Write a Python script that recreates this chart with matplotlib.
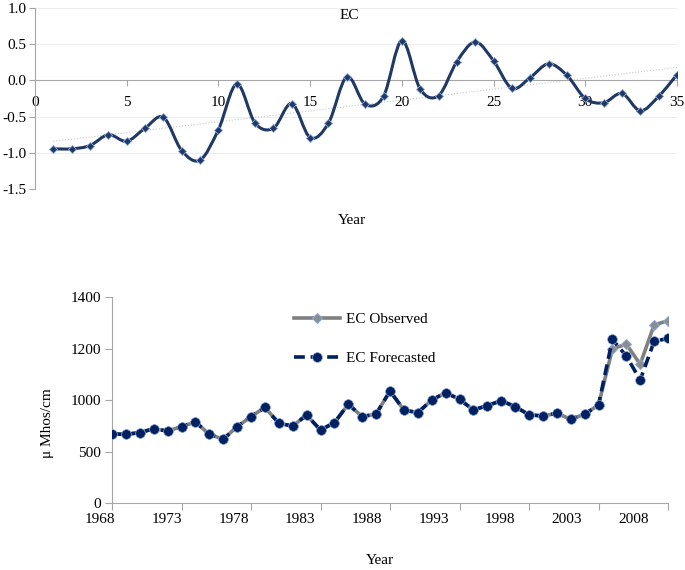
import numpy as np
import matplotlib
matplotlib.use("Agg")
import matplotlib.pyplot as plt
import matplotlib.transforms as mtransforms
from matplotlib.path import Path
from matplotlib.patches import PathPatch

plt.rcParams['font.family'] = ['Liberation Serif', 'DejaVu Serif']

# standardised EC index, periods 1..35
period = list(range(1, 36))
ec_index = [-0.945, -0.945, -0.90, -0.75, -0.84, -0.66, -0.51, -0.97, -1.10, -0.68,
            -0.05, -0.59, -0.66, -0.32, -0.79, -0.59, 0.05, -0.33, -0.22, 0.55,
            -0.12, -0.21, 0.26, 0.53, 0.27, -0.11, 0.04, 0.23, 0.07, -0.25,
            -0.31, -0.18, -0.42, -0.22, 0.08]

# observed vs forecasted EC (plotted in axis units)
years = list(range(1968, 2009))
ec_observed = [471, 469, 480, 507, 491, 521, 553, 469, 435, 521,
               589, 652, 544, 525, 600, 498, 548, 673, 589, 607,
               763, 634, 616, 702, 752, 707, 634, 664, 697, 657,
               602, 593, 612, 571, 605, 668, 1049, 1082, 945, 1212, 1241]
ec_forecast = [471, 469, 480, 507, 491, 521, 553, 469, 435, 521,
               589, 652, 544, 525, 600, 498, 548, 673, 589, 607,
               763, 634, 616, 702, 752, 707, 634, 664, 697, 657,
               602, 593, 612, 571, 605, 668, 1114, 1001, 838, 1100, 1121]
ytick_labels = ['0', '500', '1000', '1200', '1400']
xtick_labels = [str(y) for y in range(1968, 2009, 5)]

navy = '#1f3864'
dark = '#002060'
axis_gray = '#a6a6a6'


def smooth_path(xs, ys):
    # excel-like smoothed line: cubic bezier through every point
    p = np.column_stack([xs, ys]).astype(float)
    ext = np.vstack([p[0], p, p[-1]])
    verts = [p[0]]
    codes = [Path.MOVETO]
    for i in range(1, len(ext) - 2):
        p0, p1, p2, p3 = ext[i - 1], ext[i], ext[i + 1], ext[i + 2]
        verts += [p1 + (p2 - p0) / 6, p2 - (p3 - p1) / 6, p2]
        codes += [Path.CURVE4] * 3
    return Path(verts, codes)


fig = plt.figure(figsize=(6.85, 5.70), dpi=100)

# ---- top chart
ax1 = fig.add_axes([35 / 685, 1 - 189 / 570, 642 / 685, 181 / 570])
ax1.set_xlim(0, 35)
ax1.set_ylim(-1.5, 1.0)
for y in [-1.5, -1.0, -0.5, 0.5, 1.0]:
    ax1.axhline(y, color='#eeeeee', lw=0.8, zorder=0)
ax1.add_patch(PathPatch(smooth_path(period, ec_index), facecolor='none',
                        edgecolor=navy, lw=2.2, zorder=3))
ax1.plot(period, ec_index, ls='none', marker='D', ms=4, color=navy,
         mec='#8ea9db', mew=0.6, zorder=4)
slope, icpt = np.polyfit(period, ec_index, 1)
tx = np.array([period[0], period[-1]])
ax1.plot(tx, slope * tx + icpt, color='#c8c8c8', lw=0.8, ls=':', zorder=2)

ax1.spines['top'].set_visible(False)
ax1.spines['right'].set_visible(False)
ax1.spines['bottom'].set_position(('data', 0))
for s in ['left', 'bottom']:
    ax1.spines[s].set_color(axis_gray)
ax1.set_xticks(range(0, 36, 5))
ax1.set_yticks([-1.5, -1.0, -0.5, 0.0, 0.5, 1.0])
ax1.set_yticklabels(['-1.5', '-1.0', '-0.5', '0.0', '0.5', '1.0'])
ax1.tick_params(axis='both', labelsize=11, color=axis_gray, length=4)
ax1.tick_params(axis='x', pad=7)
ax1.tick_params(axis='y', pad=2)
ax1.text(0.49, 0.96, 'EC', transform=ax1.transAxes, fontsize=11,
         ha='center', va='center')
fig.text(352 / 685, 1 - 221 / 570, 'Year', fontsize=11, ha='center', va='center')

# ---- bottom chart
ax2 = fig.add_axes([112 / 685, 1 - 503.3 / 570, 556 / 685, 206 / 570])
ax2.set_xlim(1968, 2008)
ax2.set_ylim(0, 1400)
ax2.plot(years, ec_observed, color='#808080', lw=2.6, marker='D', ms=5.5,
         mfc='#8c8c8c', mec='#8ea9db', mew=0.8, label='EC Observed', zorder=3)
ax2.plot(years, ec_forecast, color=dark, lw=2.6, ls=(0, (3, 1.6)), marker='o',
         ms=7, mfc=dark, mec='#8ea9db', mew=0.5, label='EC Forecasted', zorder=4)

ax2.spines['top'].set_visible(False)
ax2.spines['right'].set_visible(False)
for s in ['left', 'bottom']:
    ax2.spines[s].set_color(axis_gray)
ax2.set_yticks(np.linspace(0, 1400, 5))
ax2.set_yticklabels(ytick_labels)
ax2.set_xticks(range(1968, 2009, 5))
ax2.set_xticklabels([])
ax2.tick_params(axis='both', labelsize=11, color=axis_gray, length=5)
ax2.tick_params(axis='y', pad=3)
# category labels drift left of the tick marks in the original
trans = mtransforms.blended_transform_factory(ax2.transData, ax2.transAxes)
for k, lab in enumerate(xtick_labels):
    ax2.text(1967.14 + 4.8 * k, -0.045, lab, transform=trans, fontsize=11,
             ha='center', va='top', clip_on=False)
ax2.set_ylabel('\u03bc Mhos/cm', fontsize=11)
ax2.yaxis.set_label_coords(-0.105, 0.39)
fig.text(380 / 685, 1 - 560 / 570, 'Year', fontsize=11, ha='center', va='center')

leg = ax2.legend(loc='upper left', bbox_to_anchor=(280 / 685, 1 - 299 / 570),
                 bbox_transform=fig.transFigure, frameon=False, fontsize=11,
                 handlelength=3.0, labelspacing=1.65, handletextpad=0.4)

fig.savefig('out.png', dpi=100)
